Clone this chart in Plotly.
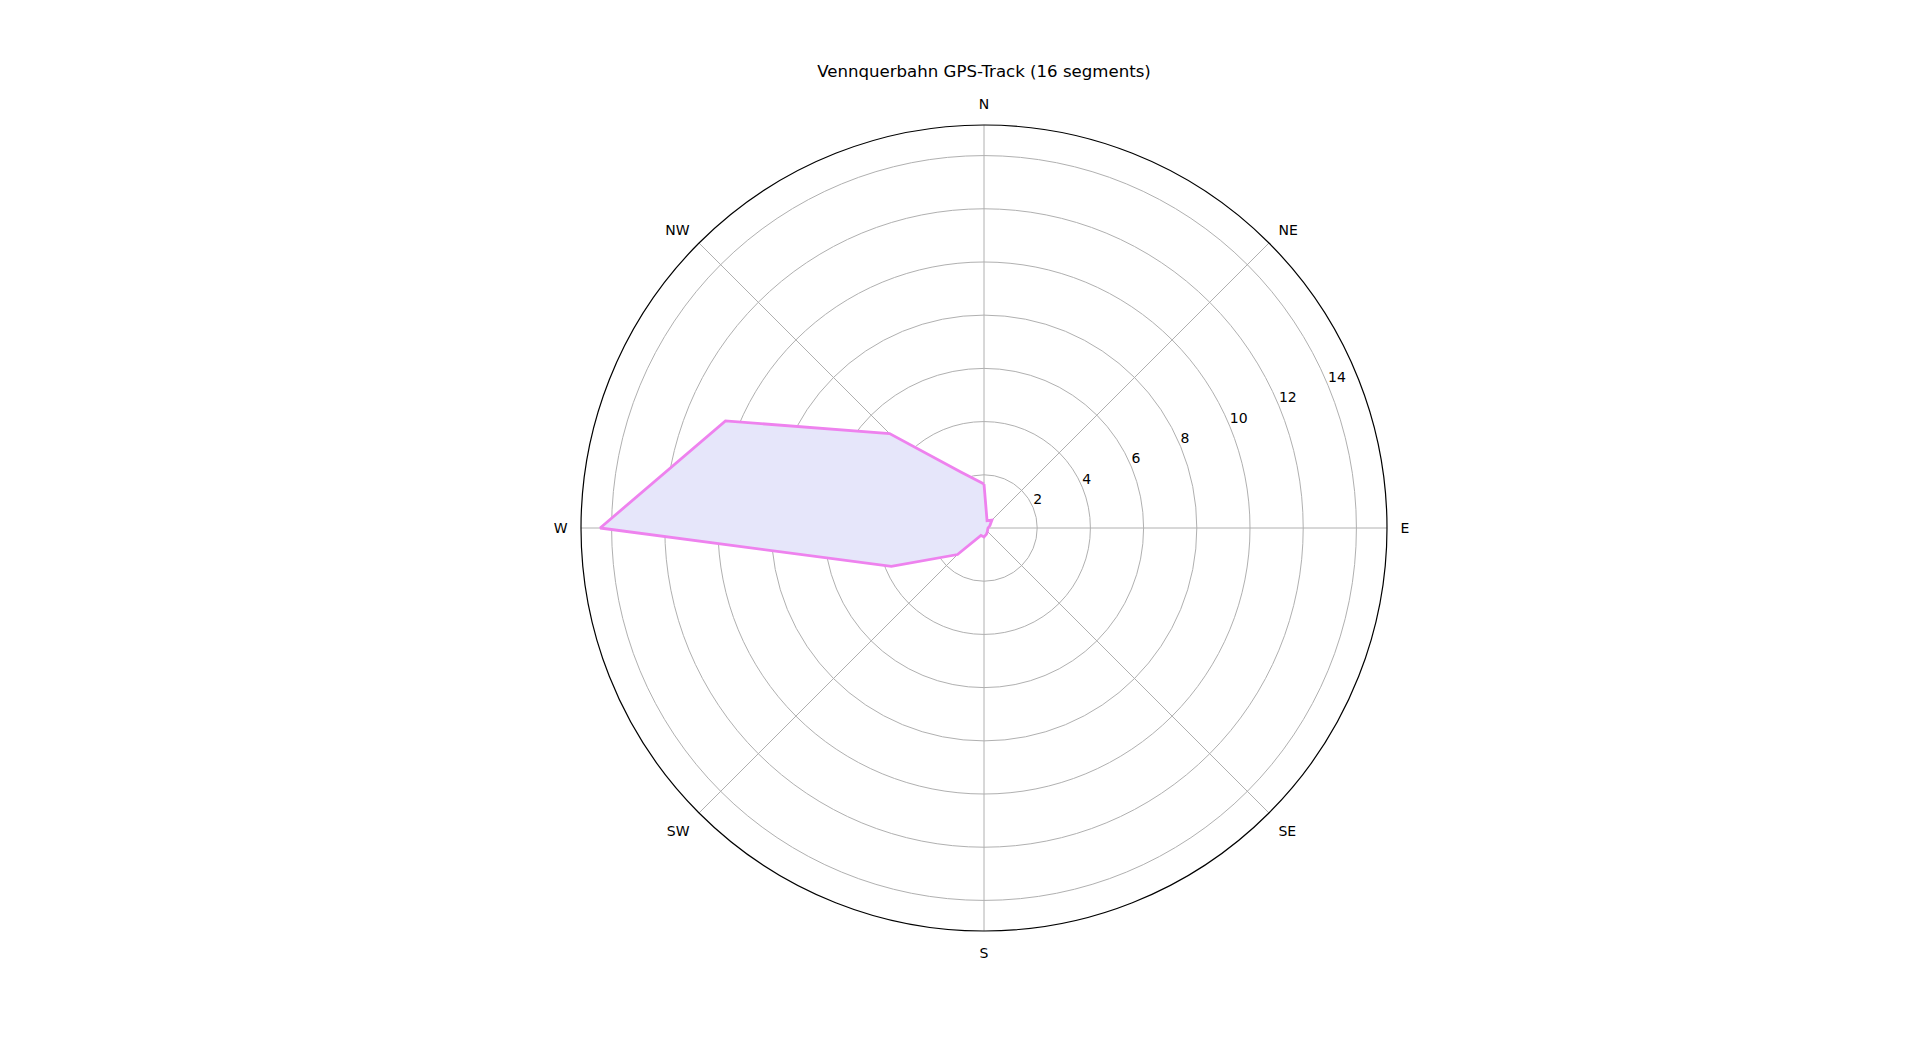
import plotly.graph_objects as go

# Data (16 compass segments, clockwise from North)
directions = [0, 22.5, 45, 67.5, 90, 112.5, 135, 157.5,
              180, 202.5, 225, 247.5, 270, 292.5, 315, 337.5]
values = [1.65, 0.30, 0.42, 0.24, 0.15, 0.15, 0.18, 0.25,
          0.34, 0.30, 1.41, 3.77, 14.43, 10.52, 5.02, 2.28]

compass_vals = [0, 45, 90, 135, 180, 225, 270, 315]
compass_text = ["N", "NE", "E", "SE", "S", "SW", "W", "NW"]
radial_ticks = [2, 4, 6, 8, 10, 12, 14]
radial_label_dir = 67.5
title_text = "Vennquerbahn GPS-Track (16 segments)"

theta_closed = directions + [directions[0]]
r_closed = values + [values[0]]

W, H = 1920, 1046
cx, cy, rad = 984 - 8, 528 - 8, 403

fig = go.Figure()
fig.add_trace(go.Scatterpolar(
    r=r_closed,
    theta=theta_closed,
    mode="lines",
    fill="toself",
    fillcolor="#E6E6FA",
    line=dict(color="#EE82EE", width=2.8),
    hoverinfo="r+theta",
    showlegend=False,
))
# radial tick labels (matplotlib style: horizontal, left/bottom anchored)
fig.add_trace(go.Scatterpolar(
    r=radial_ticks,
    theta=[radial_label_dir] * len(radial_ticks),
    mode="text",
    text=[str(v) for v in radial_ticks],
    textposition="top right",
    textfont=dict(family="DejaVu Sans", size=14, color="black"),
    hoverinfo="skip",
    showlegend=False,
))

fig.update_layout(
    width=W,
    height=H,
    paper_bgcolor="white",
    plot_bgcolor="white",
    margin=dict(l=0, r=0, t=0, b=0),
    font=dict(family="DejaVu Sans", size=14, color="black"),
    title=dict(
        text=title_text,
        x=cx / W,
        xanchor="center",
        y=1 - (70.7 - 8) / H,
        yanchor="middle",
        font=dict(family="DejaVu Sans", size=16.6, color="black"),
    ),
    polar=dict(
        domain=dict(x=[(cx - 600) / W, (cx + 600) / W],
                    y=[1 - (cy + rad) / H, 1 - (cy - rad) / H]),
        bgcolor="white",
        radialaxis=dict(
            range=[0, 15.15],
            tickvals=radial_ticks,
            showticklabels=False,
            angle=22.5,
            showline=False,
            ticks="",
            gridcolor="#b0b0b0",
            gridwidth=1,
        ),
        angularaxis=dict(
            rotation=90,
            direction="clockwise",
            tickmode="array",
            tickvals=compass_vals,
            ticktext=compass_text,
            ticks="outside",
            ticklen=10,
            tickcolor="rgba(0,0,0,0)",
            showline=True,
            linecolor="black",
            linewidth=1.2,
            gridcolor="#b0b0b0",
            gridwidth=1,
            tickfont=dict(family="DejaVu Sans", size=14, color="black"),
        ),
    ),
)

fig.write_html("out.html")
